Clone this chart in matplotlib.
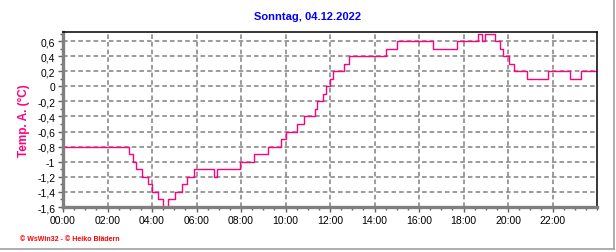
import matplotlib
matplotlib.use("Agg")
import matplotlib.pyplot as plt
from matplotlib.ticker import MultipleLocator, FuncFormatter
from matplotlib.lines import Line2D
import numpy as np

plt.rcParams['font.family'] = ['Liberation Sans', 'DejaVu Sans']

# Zeitpunkte, an denen sich die Temperatur ändert (Stufenverlauf)
zeiten = ['00:00', '02:57', '03:10', '03:16', '03:32', '03:50', '03:59', '04:16',
          '04:29', '04:44', '05:01', '05:20', '05:34', '05:52', '06:48', '06:54',
          '07:58', '08:35', '09:13', '09:49', '10:01', '10:32', '10:51', '11:19',
          '11:26', '11:42', '11:49', '11:59', '12:07', '12:39', '12:51', '14:32',
          '15:01', '16:38', '17:43', '18:40', '18:50', '18:59', '19:26', '19:38',
          '19:46', '20:03', '20:17', '20:52', '21:48', '22:48', '23:18', '23:58']
temp = [-0.8, -0.9, -1.0, -1.1, -1.2, -1.3, -1.4, -1.5,
        -1.6, -1.5, -1.4, -1.3, -1.2, -1.1, -1.2, -1.1,
        -1.0, -0.9, -0.8, -0.7, -0.6, -0.5, -0.4, -0.3,
        -0.2, -0.1, 0.0, 0.1, 0.2, 0.3, 0.4, 0.5,
        0.6, 0.5, 0.6, 0.7, 0.6, 0.7, 0.6, 0.5,
        0.4, 0.3, 0.2, 0.1, 0.2, 0.1, 0.2, 0.2]
titel = 'Sonntag, 04.12.2022'
x_labels = ['00:00', '02:00', '04:00', '06:00', '08:00', '10:00',
            '12:00', '14:00', '16:00', '18:00', '20:00', '22:00']

stunden = [int(z[:2]) + int(z[3:]) / 60 for z in zeiten]

PINK = '#ff0080'
GRAU = '#808080'

fig = plt.figure(figsize=(6.16, 2.53), dpi=100)
ax = fig.add_axes([63 / 616, 1 - 208 / 253, 534 / 616, 175 / 253])

ax.plot(stunden, temp, color=PINK, linewidth=1.0, drawstyle='steps-post')

ax.set_xlim(0, 24)
ax.set_ylim(-1.6, 0.72)

ax.set_xticks(np.arange(0, 24, 2))
ax.set_xticklabels(x_labels)
ax.xaxis.set_minor_locator(MultipleLocator(0.5))
ax.set_yticks(np.round(np.arange(-1.6, 0.61, 0.2), 1))
ax.yaxis.set_minor_locator(MultipleLocator(0.1))
ax.yaxis.set_major_formatter(FuncFormatter(lambda v, p: f"{round(v, 1) + 0:g}".replace('.', ',')))

ax.grid(True, which='major', color=GRAU, linestyle=(0, (3, 2)), linewidth=1.1)
ax.tick_params(axis='both', which='major', labelsize=7.5, length=3.5, width=1, color='#606060', pad=2)
ax.tick_params(axis='both', which='minor', length=2, width=1, color='#606060')

for seite in ('left', 'bottom'):
  ax.spines[seite].set_color(GRAU)
  ax.spines[seite].set_linewidth(2.4)
for seite in ('top', 'right'):
  ax.spines[seite].set_color('black')
  ax.spines[seite].set_linewidth(1.1)

ax.set_ylabel('Temp. A. (°C)', color=PINK, fontweight='bold', fontsize=8.5, labelpad=5)
fig.text(0.5, 1 - 17 / 253, titel, color='#0000ff', fontweight='bold', fontsize=8,
         ha='center', va='center')
fig.text(20 / 616, 1 - 240 / 253, '© WsWin32 - © Heiko Blädern', color='#ff0000',
         fontweight='bold', fontsize=5, ha='left', va='center')

# grauer Rahmen rechts und unten
fig.add_artist(Line2D([613.5 / 616, 613.5 / 616], [1 - 249.5 / 253, 1], color='#a0a0a0', linewidth=1.2))
fig.add_artist(Line2D([0, 613.5 / 616], [1 - 249.5 / 253, 1 - 249.5 / 253], color='#a0a0a0', linewidth=1.2))

fig.savefig('out.png', dpi=100)
